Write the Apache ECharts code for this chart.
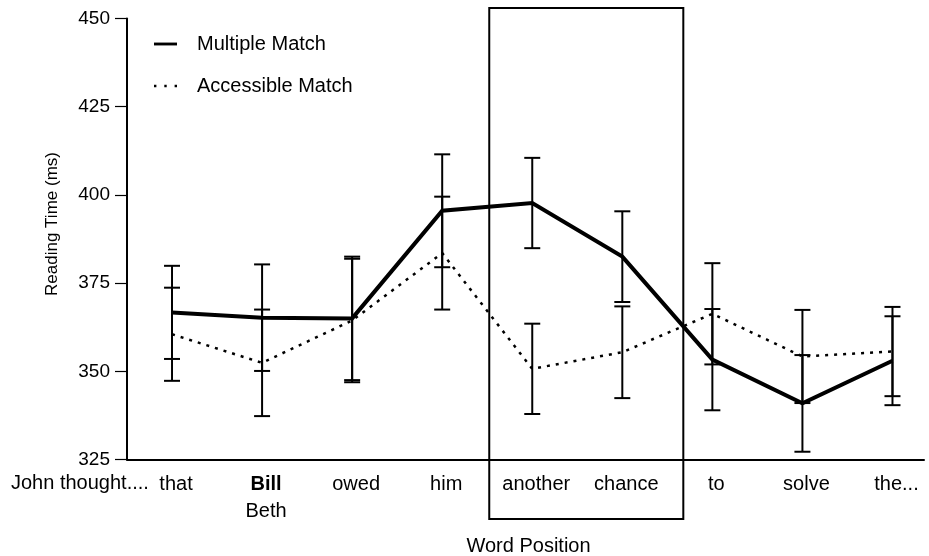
<!DOCTYPE html>
<html><head><meta charset="utf-8">
<script src="https://cdn.jsdelivr.net/npm/echarts@6/dist/echarts.min.js"></script>
<style>html,body{margin:0;padding:0;background:#fff}#c{width:929px;height:556px}</style>
</head><body><div id="c"></div>
<script>
// ---- data ----
const words = ['that', 'Bill', 'owed', 'him', 'another', 'chance', 'to', 'solve', 'the...'];
const altWords = ['', 'Beth', '', '', '', '', '', '', ''];
const sentenceStart = 'John thought....';
const boxedWords = ['another', 'chance'];
const seriesNames = ['Multiple Match', 'Accessible Match'];
const multipleMean = [366.7, 365.2, 365.0, 395.5, 397.7, 382.5, 353.3, 340.9, 353.0];
const multipleErr = [13.2, 15.1, 17.5, 16.0, 12.8, 12.85, 14.35, 13.7, 12.6];
const accessibleMean = [360.5, 352.4, 364.4, 383.5, 350.7, 355.4, 366.3, 354.2, 355.6];
const accessibleErr = [13.2, 15.1, 17.5, 16.0, 12.8, 13.0, 14.35, 13.2, 12.65];
const yMin = 325, yMax = 450, yStep = 25;
const yTitle = 'Reading Time (ms)';
const xTitle = 'Word Position';

// ---- chart ----
const FONT = '"Liberation Sans", Arial, Helvetica, sans-serif';
const chart = echarts.init(document.getElementById('c'), null, {renderer: 'canvas'});

const toPts = arr => arr.map((v, i) => [i, v]);
const toErr = (m, e) => m.map((v, i) => [i, v - e[i], v + e[i]]);

function renderErr(params, api) {
  const x = api.value(0), lo = api.value(1), hi = api.value(2);
  const p1 = api.coord([x, hi]), p2 = api.coord([x, lo]);
  const w = 8;
  const st = {stroke: '#000', lineWidth: 2};
  return {type: 'group', children: [
    {type: 'line', shape: {x1: p1[0], y1: p1[1], x2: p2[0], y2: p2[1]}, style: st},
    {type: 'line', shape: {x1: p1[0] - w, y1: p1[1], x2: p1[0] + w, y2: p1[1]}, style: st},
    {type: 'line', shape: {x1: p2[0] - w, y1: p2[1], x2: p2[0] + w, y2: p2[1]}, style: st}
  ]};
}

const option = {
  animation: false,
  backgroundColor: '#fff',
  grid: {left: 127, right: 5, top: 18.5, bottom: 96.5, containLabel: false, outerBoundsMode: 'none'},
  legend: {
    orient: 'vertical', left: 149, top: 29,
    itemWidth: 23, itemHeight: 3, itemGap: 22,
    data: [
      {name: seriesNames[0], icon: 'path://M0,0H24V3H0Z'},
      {name: seriesNames[1], icon: 'path://M0,0H2.5V2.5H0Z M10.75,0H13.25V2.5H10.75Z M21.5,0H24V2.5H21.5Z'}
    ],
    itemStyle: {color: '#000'},
    textStyle: {fontSize: 20, fontFamily: FONT, color: '#000', padding: [0, 0, 0, 15], lineHeight: 20}
  },
  xAxis: {
    type: 'value', min: -0.5, max: 8.35, interval: 0.5,
    name: xTitle, nameLocation: 'middle', nameGap: 77,
    nameTextStyle: {fontSize: 20, fontFamily: FONT, color: '#000', padding: [0, 0, 0, 6]},
    axisLine: {show: true, onZero: false, lineStyle: {color: '#000', width: 2}},
    axisTick: {show: false},
    splitLine: {show: false},
    axisLabel: {
      margin: 11, showMaxLabel: false,
      padding: [0, 0, 0, 8],
      formatter: function (v) {
        const i = Math.round(v);
        if (Math.abs(v - i) > 1e-6 || i < 0 || i >= words.length) return '';
        return i === 1 ? '{b|' + words[i] + '}\n{w|' + altWords[i] + '}' : '{w|' + words[i] + '}';
      },
      rich: {
        w: {fontSize: 20, lineHeight: 27, fontFamily: FONT, color: '#000'},
        b: {fontSize: 20, lineHeight: 27, fontFamily: FONT, color: '#000', fontWeight: 'bold'}
      }
    }
  },
  yAxis: {
    type: 'value', min: yMin, max: yMax, interval: yStep,
    name: yTitle, nameLocation: 'middle', nameGap: 66,
    nameTextStyle: {fontSize: 17, fontFamily: FONT, color: '#000', padding: [0, 0, 0, 30]},
    axisLine: {show: true, onZero: false, lineStyle: {color: '#000', width: 2}},
    axisTick: {show: true, inside: false, length: 12, lineStyle: {color: '#000', width: 1.2}},
    splitLine: {show: false},
    axisLabel: {margin: 17, fontSize: 19, fontFamily: FONT, color: '#000'}
  },
  series: [
    {
      name: seriesNames[1], type: 'line', data: toPts(accessibleMean),
      symbol: 'none', z: 3,
      lineStyle: {color: '#000', width: 2.5, type: [3, 6], cap: 'butt'},
      itemStyle: {color: '#000'}
    },
    {
      name: seriesNames[0], type: 'line', data: toPts(multipleMean),
      symbol: 'none', z: 4,
      lineStyle: {color: '#000', width: 4, join: 'miter'},
      itemStyle: {color: '#000'}
    },
    {type: 'custom', renderItem: renderErr, data: toErr(multipleMean, multipleErr), z: 5, silent: true},
    {type: 'custom', renderItem: renderErr, data: toErr(accessibleMean, accessibleErr), z: 5, silent: true}
  ]
};
chart.setOption(option);

const i0 = words.indexOf(boxedWords[0]), i1 = words.indexOf(boxedWords[1]);
const pTop = chart.convertToPixel({gridIndex: 0}, [i0, yMax]);
const pBot = chart.convertToPixel({gridIndex: 0}, [i1, yMin]);
const bx0 = pTop[0] - 43, bx1 = pBot[0] + 61, by0 = pTop[1] - 10.5, by1 = pBot[1] + 59.5;
chart.setOption({
  graphic: [
    {type: 'rect', silent: true, z: 10,
     shape: {x: bx0, y: by0, width: bx1 - bx0, height: by1 - by0},
     style: {fill: 'none', stroke: '#000', lineWidth: 2}},
    {type: 'text', left: 11, top: 473, silent: true,
     style: {text: sentenceStart, font: '20px ' + FONT, fill: '#000'}}
  ]
});
</script>
</body></html>
